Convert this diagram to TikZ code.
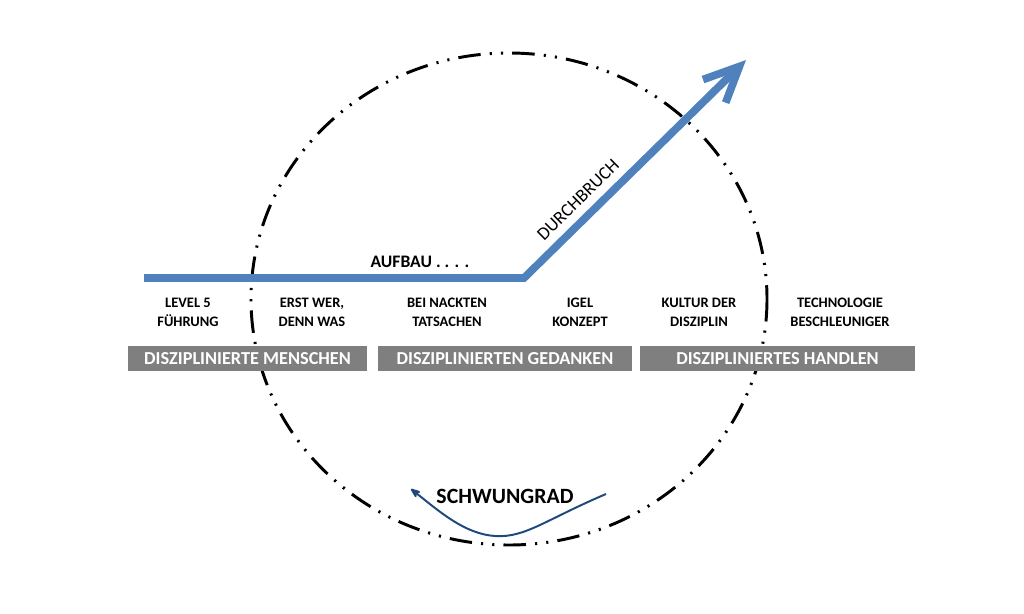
\documentclass[tikz,border=0pt]{standalone}
\usepackage{fontspec}
\setmainfont{Carlito}
\usepackage{tikz}
\usetikzlibrary{positioning,calc,arrows.meta}

\definecolor{aufbaublau}{RGB}{79,129,189}
\definecolor{radblau}{RGB}{31,73,125}
\definecolor{balkengrau}{RGB}{127,127,127}

\begin{document}
\begin{tikzpicture}[x=0.025cm, y=-0.025cm, >={Stealth[round]}, feld/.style = {align=center, inner sep=0pt, font=\bfseries\fontsize{10.3}{13.5}\selectfont}, balken/.style = {fill=balkengrau, text=white, inner sep=0pt, minimum height=0.625cm, font=\bfseries\fontsize{13}{15}\selectfont}, ring/.style = {line width=2.1pt, dash pattern=on 16pt off 6.5pt on 1.5pt off 6.5pt on 1.5pt off 6.5pt}, pfad/.style = {aufbaublau, line width=5.5pt, line join=miter}, rad/.style = {radblau, line width=1.4pt}]

\useasboundingbox (0,0) rectangle (1024,613);

% das Schwungrad
\draw[ring] (509,299) ellipse [x radius=258, y radius=246];

\coordinate (start) at (144,278);
\coordinate (knick) at (524,278);
\coordinate (spitze) at (746,60);

\node[balken, minimum width=5.975cm] (menschen) at (247.5,358.5) {DISZIPLINIERTE MENSCHEN};
\node[balken, minimum width=6.35cm] (gedanken) at (505,358.5) {DISZIPLINIERTEN GEDANKEN};
\node[balken, minimum width=6.875cm] (handeln) at (777.5,358.5) {DISZIPLINIERTES HANDLEN};

\node[feld] (level) at (188,312) {LEVEL 5\\FÜHRUNG};
\node[feld] (wer) at (312,312) {ERST WER,\\DENN WAS};
\node[feld] (fakten) at (447,312) {BEI NACKTEN\\TATSACHEN};
\node[feld] (igel) at (580,312) {IGEL\\KONZEPT};
\node[feld] (kultur) at (699,312) {KULTUR DER\\DISZIPLIN};
\node[feld] (technik) at (840,312) {TECHNOLOGIE\\BESCHLEUNIGER};

\draw[pfad, -{Straight Barb[length=25pt, width=23pt]}] (start) -- (knick) -- (spitze);

\node[font=\bfseries\fontsize{12.5}{14}\selectfont] (aufbau) at (420,262) {AUFBAU . . . .};
\path (knick) -- (spitze) node[pos=0.3, sloped, above=5pt, font=\fontsize{13}{15}\selectfont] (durchbruch) {DURCHBRUCH};

\coordinate (rechts) at (606,494);
\coordinate (links) at (411,489);
\node[font=\bfseries\fontsize{15.5}{17}\selectfont] (schwung) at (505,496) {SCHWUNGRAD};
\draw[rad, ->] (rechts) .. controls (545,520) and (525,538) .. (495,536) .. controls (465,534) and (440,512) .. (links);
\end{tikzpicture}
\end{document}
